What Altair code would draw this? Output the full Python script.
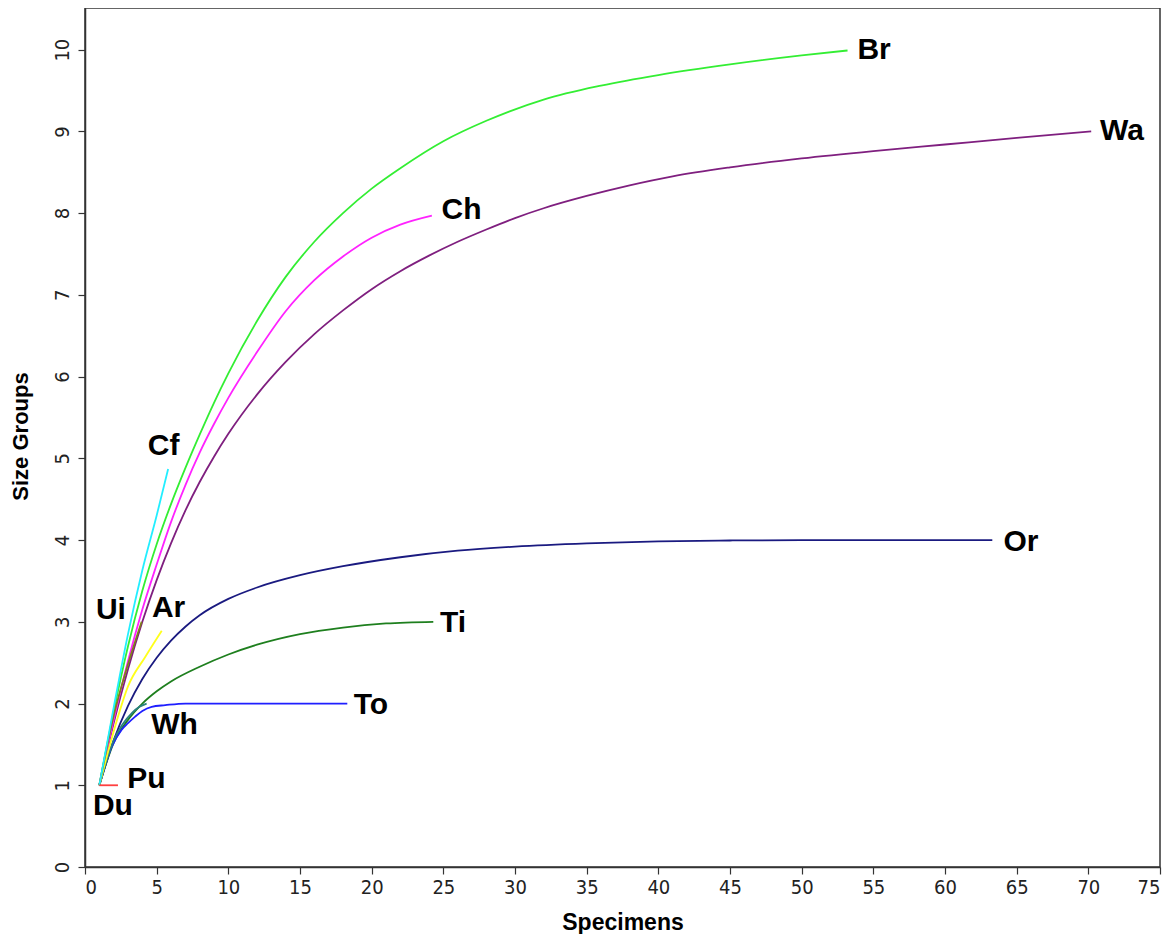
import altair as alt
import pandas as pd

# ---- data ----
br_x = [1, 2, 3, 4, 5, 6, 7, 8, 9, 10, 12, 14, 16, 18, 20, 22, 25, 28, 32, 36, 40, 45, 50, 53.2]
br_y = [1, 1.9, 2.7, 3.38, 3.95, 4.44, 4.88, 5.29, 5.68, 6.04, 6.68, 7.22, 7.65, 8.0, 8.3, 8.55, 8.88, 9.13, 9.39, 9.56, 9.69, 9.82, 9.93, 9.99]

wa_x = [1, 2, 3, 4, 5, 6, 7, 8, 9, 10, 12, 14, 16, 18, 20, 22, 24, 26, 28, 30, 32, 35, 38, 41, 45, 50, 55, 60, 65, 70.2]
wa_y = [1, 1.76, 2.42, 3.0, 3.51, 3.96, 4.36, 4.71, 5.02, 5.3, 5.78, 6.18, 6.52, 6.81, 7.07, 7.29, 7.48, 7.65, 7.8, 7.94, 8.06, 8.21, 8.34, 8.45, 8.56, 8.67, 8.76, 8.84, 8.92, 9.0]

ch_x = [1, 2, 3, 4, 5, 6, 7, 8, 9, 10, 12, 14, 16, 18, 20, 22, 24.2]
ch_y = [1, 1.8, 2.52, 3.15, 3.7, 4.22, 4.67, 5.07, 5.42, 5.74, 6.3, 6.8, 7.18, 7.47, 7.7, 7.86, 7.97]

cf_x = [1, 2, 3, 4, 5, 5.8]
cf_y = [1, 1.95, 2.85, 3.63, 4.3, 4.87]

or_x = [1, 2, 3, 4, 5, 6, 7, 8, 10, 12, 15, 18, 22, 26, 30, 35, 40, 45, 50, 63.3]
or_y = [1, 1.55, 1.97, 2.3, 2.56, 2.77, 2.94, 3.08, 3.28, 3.42, 3.57, 3.68, 3.79, 3.87, 3.92, 3.96, 3.985, 3.995, 4.0, 4.0]

ti_x = [1, 2, 3, 4, 5, 6, 8, 10, 12, 15, 18, 21, 24.3]
ti_y = [1, 1.52, 1.8, 2.0, 2.15, 2.27, 2.45, 2.6, 2.72, 2.85, 2.93, 2.98, 3.0]

to_x = [1, 1.86, 2.56, 3.0, 3.5, 4.0, 4.65, 5.6, 7, 18.3]
to_y = [1, 1.47, 1.68, 1.76, 1.84, 1.91, 1.96, 1.98, 2.0, 2.0]

wh_x = [1, 2, 2.6, 3.3, 3.8, 4.3]
wh_y = [1, 1.55, 1.74, 1.89, 1.96, 2.0]

ar_x = [1, 2.1, 3.0, 4.2, 5.35]
ar_y = [1, 1.72, 2.21, 2.57, 2.89]

ui_x = [1, 2, 3, 3.95]
ui_y = [1, 1.85, 2.48, 3.0]

pu_x = [1, 2.3]
pu_y = [1, 1]

du_x = [1]
du_y = [1]

series_names = ["Wa", "Br", "Ch", "Or", "Ti", "To", "Wh", "Ar", "Ui", "Cf", "Pu", "Du"]
series_colors = ["#7f1f7f", "#33ee33", "#ff22ff", "#1a1a80", "#1e7f1e", "#1f1fff",
                 "#2a8080", "#ffff1a", "#7f7f1a", "#22eeff", "#ff4040", "#ff4040"]
series_x = [wa_x, br_x, ch_x, or_x, ti_x, to_x, wh_x, ar_x, ui_x, cf_x, pu_x, du_x]
series_y = [wa_y, br_y, ch_y, or_y, ti_y, to_y, wh_y, ar_y, ui_y, cf_y, pu_y, du_y]

label_text = ["Br", "Wa", "Ch", "Cf", "Or", "Ui", "Ar", "Ti", "To", "Wh", "Pu", "Du"]
label_x = [55.05, 72.35, 26.27, 5.48, 65.3, 1.81, 5.83, 25.68, 19.95, 6.24, 4.29, 1.95]
label_y = [10.0, 9.0, 8.04, 5.15, 3.98, 3.15, 3.17, 2.99, 1.98, 1.74, 1.08, 0.75]

x_ticks = list(range(0, 80, 5))
y_ticks = list(range(0, 11))

# ---- build tables ----
rows = []
for i, (name, xs, ys) in enumerate(zip(series_names, series_x, series_y)):
    for xv, yv in zip(xs, ys):
        rows.append({"series": name, "x": xv, "y": yv, "ord": i})
df = pd.DataFrame(rows)
labels = pd.DataFrame({"text": label_text, "x": label_x, "y": label_y})

xscale = alt.Scale(domain=[0, 75], nice=False, zero=False)
yscale = alt.Scale(domain=[0, 10.51], nice=False, zero=False)

lines = alt.Chart(df).mark_line(strokeWidth=1.8, interpolate="monotone").encode(
    x=alt.X("x:Q", scale=xscale,
            axis=alt.Axis(title="Specimens", values=x_ticks, format="d",
                          grid=False, tickSize=7, labelPadding=3,
                          titleFontSize=23,
                          titleX=537.5, titleY=62, titleBaseline="alphabetic")),
    y=alt.Y("y:Q", scale=yscale,
            axis=alt.Axis(title="Size Groups", values=y_ticks, format="d",
                          grid=False, tickSize=7, labelPadding=6,
                          labelAngle=270, labelAlign="center", labelBaseline="bottom",
                          titleFontSize=22,
                          titleAngle=270, titleAlign="center", titleBaseline="middle",
                          titleX=-65, titleY=428)),
    color=alt.Color("series:N", scale=alt.Scale(domain=series_names, range=series_colors), legend=None),
    detail="series:N",
    order=alt.Order("x:Q"),
)

texts = alt.Chart(labels).mark_text(
    font="Liberation Sans", fontWeight="bold", fontSize=30,
    align="center", baseline="middle", color="black"
).encode(
    x=alt.X("x:Q", scale=xscale),
    y=alt.Y("y:Q", scale=yscale),
    text="text:N",
)

chart = alt.layer(lines, texts).properties(
    width=1075, height=859,
    autosize=alt.AutoSizeParams(type="none"),
    padding={"left": 77, "top": 0, "right": 8, "bottom": 67},
    background="white",
).configure_view(
    stroke="#333333", strokeWidth=1.5
).configure_axis(
    domainColor="#333333", domainWidth=1.5, tickColor="#333333", tickWidth=1.2,
    labelFont="Liberation Sans Narrow, DejaVu Sans Condensed, Arial Narrow, sans-serif",
    labelFontSize=20, labelColor="#222222",
    titleFont="Liberation Sans, Arial, sans-serif",
    titleFontWeight="bold", titleColor="black",
)

chart.save("out.html", embed_options={"renderer": "svg", "actions": False})
